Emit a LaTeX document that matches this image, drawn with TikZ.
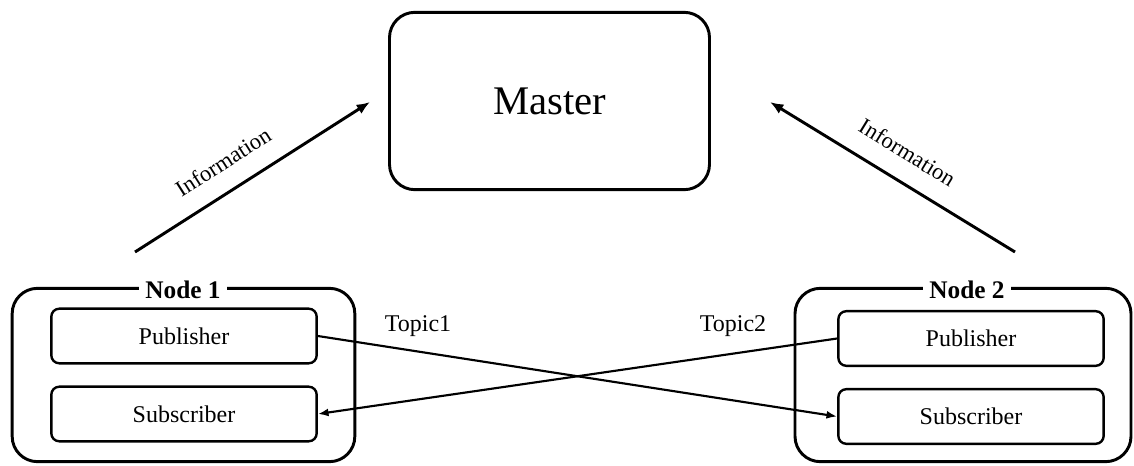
\documentclass[tikz,border=0pt]{standalone}
\usepackage{fontspec}
\setmainfont{Liberation Serif}
\usetikzlibrary{arrows.meta}

\begin{document}
\begin{tikzpicture}[x=0.75pt,y=-0.75pt,
	outer/.style={draw,line width=2.2pt,rounded corners=19pt,minimum height=130pt},
	inner/.style={draw,line width=1.8pt,rounded corners=6pt,minimum width=199pt,minimum height=41pt,font=\fontsize{18}{21}\selectfont},
	title/.style={fill=white,inner xsep=5pt,inner ysep=1pt,font=\bfseries\fontsize{19}{22}\selectfont},
	info/.style={line width=2.2pt,-{Latex[length=10pt,width=8pt]}},
	topic/.style={line width=1.6pt,-{Latex[length=8pt,width=6pt]}}]
\useasboundingbox (0,0) rectangle (1134,466);
\node [draw,line width=2.2pt,rounded corners=19pt,minimum width=240pt,minimum height=133pt,font=\fontsize{30.5}{36}\selectfont] (master) at (549.5,101) {Master};
\node [outer,minimum width=257pt] (n1) at (183.5,375) {};
\node [outer,minimum width=252pt] (n2) at (963,375) {};
\node [title] (t1) at (183,290) {Node 1};
\node [title] (t2) at (967,290) {Node 2};
\node [inner] (pub1) at (184,336) {Publisher};
\node [inner] (sub1) at (184,414) {Subscriber};
\node [inner] (pub2) at (971,338.5) {Publisher};
\node [inner] (sub2) at (971,416.5) {Subscriber};
\coordinate (a1) at (135,252);
\coordinate (b1) at (370,102);
\coordinate (a2) at (1015,252);
\coordinate (b2) at (770,102);
\draw [info] (a1) -- (b1) node [pos=0.44,above=11pt,sloped,font=\fontsize{17}{20}\selectfont] {Information};
\draw [info] (a2) -- (b2) node [pos=0.5,above=11pt,sloped,font=\fontsize{17}{20}\selectfont] {Information};
\draw [topic] (pub1.east) -- (sub2.west);
\draw [topic] (pub2.west) -- (sub1.east);
\node [font=\fontsize{18}{21}\selectfont] (topic1) at (418,326) {Topic1};
\node [font=\fontsize{18}{21}\selectfont] (topic2) at (733,326) {Topic2};
\end{tikzpicture}
\end{document}
